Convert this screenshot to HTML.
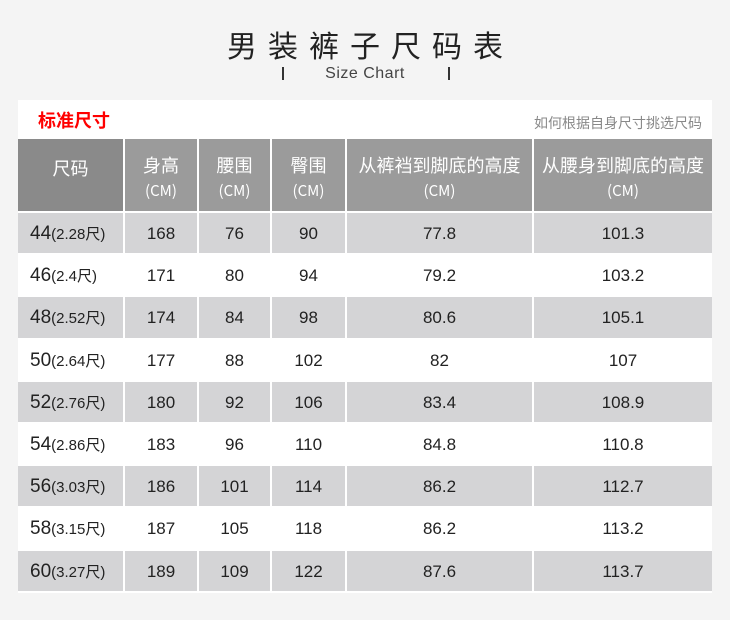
<!DOCTYPE html>
<html><head><meta charset="utf-8"><style>
*{margin:0;padding:0;box-sizing:border-box}
body{width:730px;height:620px;background:#f4f4f4;font-family:"Liberation Sans","Noto Sans CJK SC",sans-serif;position:relative;overflow:hidden;color:#333}
.t{position:absolute;left:0;width:730px;top:24px;text-align:center;font-size:30px;letter-spacing:11px;padding-left:11px;color:#222;font-family:"Noto Sans CJK SC",sans-serif;line-height:40px}
.s{position:absolute;left:0;width:730px;top:65px;text-align:center;font-size:16px;color:#444;letter-spacing:0.5px}
.bar{position:absolute;top:67px;width:2px;height:13px;background:#333}
.card{position:absolute;left:18px;top:100px;width:694px;height:491px;background:#fff}
.std{position:absolute;left:20px;top:7px;font-size:18px;color:#f00;font-weight:bold;font-family:"Noto Sans CJK SC",sans-serif}
.how{position:absolute;right:10px;top:13px;font-size:14px;color:#888;font-family:"Noto Sans CJK SC",sans-serif}
table{position:absolute;left:18px;top:139px;border-collapse:collapse;table-layout:fixed}
td{border:2px solid #fff;text-align:center;font-size:17px;color:#222;height:42.2px;padding:2px 0 0 0}
tr.h td{background:#9b9b9b;color:#fff;height:73px;font-size:18px;line-height:24px;font-family:"Noto Sans CJK SC",sans-serif;border-top:0;padding-top:6px}
tr.h td:first-child{background:#8a8a8a}
tr.h td small{font-size:15px}
tr.g td{background:#d4d4d6}
td:first-child{border-left:0;text-align:left;padding-left:12px;font-size:19px}
td:first-child span{font-size:15px}
td:last-child{border-right:0}
</style></head><body>
<div class="t">男装裤子尺码表</div>
<div class="bar" style="left:282px"></div><div class="bar" style="left:448px"></div>
<div class="s">Size Chart</div>
<div class="card"><div class="std">标准尺寸</div><div class="how">如何根据自身尺寸挑选尺码</div></div>
<table>
<colgroup><col style="width:106px"><col style="width:74px"><col style="width:73px"><col style="width:75px"><col style="width:187px"><col style="width:179px"></colgroup>
<tr class="h"><td style="text-align:center;padding:0 0 14px 0;font-size:18px">尺码</td><td>身高<br><small>(CM)</small></td><td>腰围<br><small>(CM)</small></td><td>臀围<br><small>(CM)</small></td><td>从裤裆到脚底的高度<br><small>(CM)</small></td><td>从腰身到脚底的高度<br><small>(CM)</small></td></tr>
<tr class="g"><td>44<span>(2.28尺)</span></td><td>168</td><td>76</td><td>90</td><td>77.8</td><td>101.3</td></tr>
<tr><td>46<span>(2.4尺)</span></td><td>171</td><td>80</td><td>94</td><td>79.2</td><td>103.2</td></tr>
<tr class="g"><td>48<span>(2.52尺)</span></td><td>174</td><td>84</td><td>98</td><td>80.6</td><td>105.1</td></tr>
<tr><td>50<span>(2.64尺)</span></td><td>177</td><td>88</td><td>102</td><td>82</td><td>107</td></tr>
<tr class="g"><td>52<span>(2.76尺)</span></td><td>180</td><td>92</td><td>106</td><td>83.4</td><td>108.9</td></tr>
<tr><td>54<span>(2.86尺)</span></td><td>183</td><td>96</td><td>110</td><td>84.8</td><td>110.8</td></tr>
<tr class="g"><td>56<span>(3.03尺)</span></td><td>186</td><td>101</td><td>114</td><td>86.2</td><td>112.7</td></tr>
<tr><td>58<span>(3.15尺)</span></td><td>187</td><td>105</td><td>118</td><td>86.2</td><td>113.2</td></tr>
<tr class="g"><td>60<span>(3.27尺)</span></td><td>189</td><td>109</td><td>122</td><td>87.6</td><td>113.7</td></tr>
</table>
</body></html>
